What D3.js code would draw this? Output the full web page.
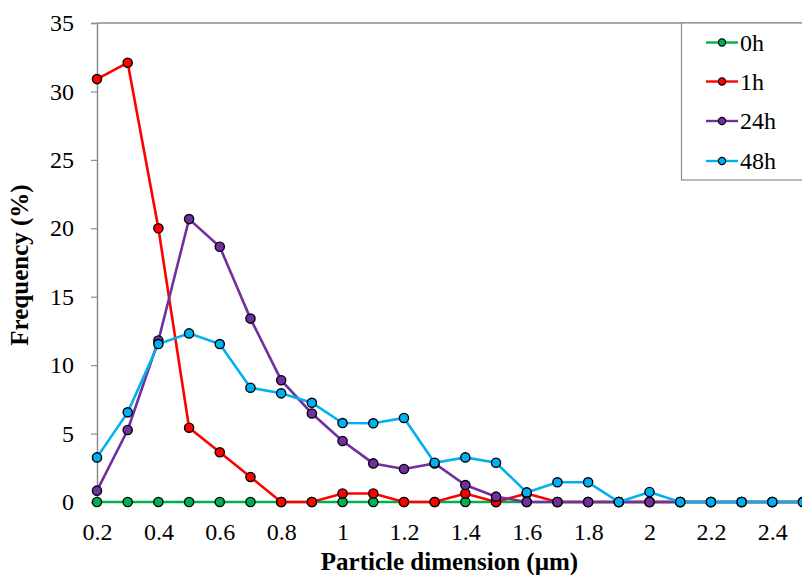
<!DOCTYPE html>
<html>
<head>
<meta charset="utf-8">
<script src="https://cdn.jsdelivr.net/npm/d3@7"></script>
<style>
  body { margin: 0; background: #fff; }
</style>
</head>
<body>
<svg width="802" height="575"></svg>
<script>
// particle sizes (µm)
const sizes = [0.2, 0.3, 0.4, 0.5, 0.6, 0.7, 0.8, 0.9, 1.0, 1.1, 1.2, 1.3, 1.4, 1.5, 1.6, 1.7, 1.8, 1.9, 2.0, 2.1, 2.2, 2.3, 2.4, 2.5];

const h0  = [0, 0, 0, 0, 0, 0, 0, 0, 0, 0, 0, 0, 0, 0, 0, 0, 0, 0, 0, 0, 0, 0, 0, 0];
const h1  = [30.9, 32.1, 20.0, 5.43, 3.63, 1.83, 0, 0, 0.62, 0.62, 0, 0, 0.62, 0, 0.62, 0, 0, 0, 0, 0, 0, 0, 0, 0];
const h24 = [0.83, 5.26, 11.8, 20.67, 18.65, 13.4, 8.9, 6.47, 4.46, 2.82, 2.41, 2.82, 1.24, 0.39, 0, 0, 0, 0, 0, 0, 0, 0, 0, 0];
const h48 = [3.26, 6.55, 11.54, 12.32, 11.54, 8.35, 7.94, 7.25, 5.77, 5.75, 6.14, 2.87, 3.26, 2.87, 0.7, 1.44, 1.44, 0, 0.73, 0, 0, 0, 0, 0];

const seriesNames = ["0h", "1h", "24h", "48h"];
const seriesColors = ["#00b050", "#ff0000", "#7030a0", "#00b0f0"];
const seriesData = [h0, h1, h24, h48];

const xTicks = [0.2, 0.4, 0.6, 0.8, 1.0, 1.2, 1.4, 1.6, 1.8, 2.0, 2.2, 2.4];
const yTicks = [0, 5, 10, 15, 20, 25, 30, 35];

const svg = d3.select("svg");

const x = d3.scaleLinear().domain([0.2, 2.5]).range([97, 803]);
const y = d3.scaleLinear().domain([0, 35]).range([502, 23]);

// plot area top border
svg.append("line")
    .attr("x1", x(0.2)).attr("x2", 802)
    .attr("y1", y(35)).attr("y2", y(35))
    .attr("stroke", "#8c8c8c").attr("stroke-width", 1.5);

// y axis
const yAxis = svg.append("g")
    .attr("transform", `translate(${x(0.2)},0)`)
    .call(d3.axisLeft(y).tickValues(yTicks).tickSize(6).tickPadding(17).tickFormat(d3.format("d")));

// x axis
const xAxis = svg.append("g")
    .attr("transform", `translate(0,${y(0)})`)
    .call(d3.axisBottom(x).tickValues(xTicks).tickSize(5).tickFormat(d => String(+d.toFixed(1))));

[yAxis, xAxis].forEach(a => {
    a.attr("font-size", 24);
    a.select(".domain").attr("stroke", "#8c8c8c").attr("stroke-width", 1.5);
    a.selectAll(".tick line").attr("stroke", "#8c8c8c").attr("stroke-width", 1.2);
    a.selectAll("text").attr("fill", "#000");
});
xAxis.select(".domain").attr("d", `M${x(0.2)},0H802`);
xAxis.selectAll(".tick text").attr("dy", null).attr("y", 38);

// axis titles
svg.append("text")
    .attr("x", (322 + 577) / 2).attr("y", 570)
    .attr("text-anchor", "middle")
    .attr("font-size", 25).attr("font-weight", "bold")
    .text("Particle dimension (µm)");

svg.append("text")
    .attr("transform", "translate(28,265) rotate(-90)")
    .attr("text-anchor", "middle")
    .attr("font-size", 25).attr("font-weight", "bold")
    .text("Frequency (%)");

// series
const line = d3.line().x((d, i) => x(sizes[i])).y(d => y(d));

seriesData.forEach((vals, k) => {
    const g = svg.append("g");
    g.append("path")
        .datum(vals)
        .attr("fill", "none")
        .attr("stroke", seriesColors[k])
        .attr("stroke-width", 2.6)
        .attr("d", line);
    g.selectAll("circle")
        .data(vals)
        .enter().append("circle")
        .attr("cx", (d, i) => x(sizes[i]))
        .attr("cy", d => y(d))
        .attr("r", 4.6)
        .attr("fill", seriesColors[k])
        .attr("stroke", "#000")
        .attr("stroke-width", 1.4);
});

// legend
const legend = svg.append("g");
legend.append("rect")
    .attr("x", 681.5).attr("y", 23)
    .attr("width", 130).attr("height", 157)
    .attr("fill", "#fff")
    .attr("stroke", "#8c8c8c").attr("stroke-width", 1.2);

const rowY = [42.5, 81.5, 121, 161];
seriesNames.forEach((name, k) => {
    const r = legend.append("g").attr("transform", `translate(0,${rowY[k]})`);
    r.append("line")
        .attr("x1", 706).attr("x2", 738)
        .attr("stroke", seriesColors[k]).attr("stroke-width", 2.4);
    r.append("circle")
        .attr("cx", 722).attr("r", 3.6)
        .attr("fill", seriesColors[k])
        .attr("stroke", "#000").attr("stroke-width", 1.2);
    r.append("text")
        .attr("x", 740).attr("y", 8)
        .attr("font-size", 24)
        .text(name);
});

// every text in Times-like serif
svg.selectAll("text").attr("font-family", "Liberation Serif");
</script>
</body>
</html>
